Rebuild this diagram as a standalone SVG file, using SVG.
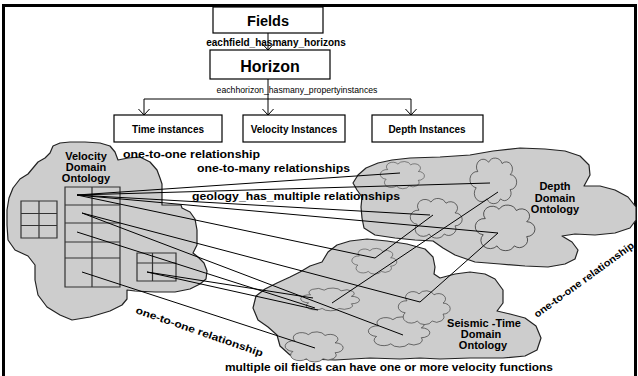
<svg xmlns="http://www.w3.org/2000/svg" xmlns:xlink="http://www.w3.org/1999/xlink" width="638" height="376" viewBox="0 0 638 376">
<style>
.box{fill:#fff;stroke:#000;stroke-width:1.2}
.t{font-family:"Liberation Sans",Arial,sans-serif;fill:#000}
.b{font-weight:bold}
.ln{stroke:#000;stroke-width:1;fill:none}
.cloud{fill:#cdcdcd;stroke:#222;stroke-width:1.2;stroke-linejoin:round}
.sc{fill:#cdcdcd;stroke:#222;stroke-width:1.1;stroke-linejoin:round}
.grid{fill:none;stroke:#333;stroke-width:1.2}
</style>
<defs>
<marker id="v" viewBox="0 0 7 12" refX="6.5" refY="6" markerWidth="7" markerHeight="12" markerUnits="userSpaceOnUse" orient="auto">
<path d="M0,0 L6.5,6 L0,12" fill="none" stroke="#000" stroke-width="1"/>
</marker>
<path id="small" d="M-30,-20 a12 12 0 0 1 20,-15 a14 14 0 0 1 25,2 a10 10 0 0 1 15,18 a12 12 0 0 1 0,24 a12 12 0 0 1 -18,15 a14 14 0 0 1 -25,0 a12 12 0 0 1 -20,-18 a10 10 0 0 1 3,-26 z"/>
</defs>
<rect x="0" y="0" width="638" height="376" fill="#fff"/>
<rect x="3.5" y="5.5" width="632" height="380" fill="none" stroke="#000" stroke-width="3"/>

<g id="fields"><rect class="box" x="213" y="7" width="110" height="26"/><text class="t b" x="268" y="26" font-size="14.5" text-anchor="middle">Fields</text></g>
<g id="horizon"><rect class="box" x="210" y="50" width="120" height="29"/><text class="t b" x="270" y="72" font-size="16" text-anchor="middle">Horizon</text></g>
<g id="time"><rect class="box" x="114" y="115" width="108" height="27"/><text class="t b" x="168" y="133" font-size="10" text-anchor="middle">Time instances</text></g>
<g id="velocity"><rect class="box" x="243" y="115" width="102" height="27"/><text class="t b" x="294" y="133" font-size="10" text-anchor="middle">Velocity Instances</text></g>
<g id="depth"><rect class="box" x="372" y="115" width="111" height="27"/><text class="t b" x="427" y="133" font-size="10" text-anchor="middle">Depth Instances</text></g>

<g id="depth-ontology">
<path class="cloud" d="M353,183 L358,175 L366,168 L378,163 L392,160 L410,158 L440,157 L470,155 L493,151 L520,148 L545,149 L565,151 L580,156 L589,165 L590,175 L584,186 L600,186 L615,190 L628,197 L636,207 L636,220 L630,228 L615,233 L595,235 L575,234 L562,236 L572,242 L578,250 L575,259 L565,264 L548,267 L525,266 L500,264 L475,262 L455,255 L443,248 L433,241 L415,240 L395,238 L375,235 L364,228 L362,218 L361,207 L362,197 L357,190 Z"/>
<use href="#small" class="sc" transform="translate(403,177) scale(0.51,0.37)"/>
<use href="#small" class="sc" transform="translate(494,184) scale(0.54,0.62)"/>
<use href="#small" class="sc" transform="translate(437,221) scale(0.6,0.54)"/>
<use href="#small" class="sc" transform="translate(506,231) scale(0.69,0.62)"/>
<text class="t b" font-size="11" text-anchor="middle"><tspan x="555" y="190">Depth</tspan><tspan x="555" y="202">Domain</tspan><tspan x="555" y="213">Ontology</tspan></text>
</g>

<g id="seismic-ontology">
<path class="cloud" d="M300,272 L310,266 L322,262 L328,252 L337,245 L350,241 L367,239 L387,241 L407,244 L425,249 L433,257 L435,267 L434,274 L440,278 L455,274 L470,272 L485,274 L495,279 L503,290 L503,303 L497,311 L510,314 L525,318 L536,326 L541,338 L537,350 L525,356 L503,358 L470,358 L440,359 L420,358 L400,359 L370,358 L335,360 L305,359 L290,355 L280,346 L277,335 L268,327 L258,320 L253,308 L256,296 L265,289 L277,283 L290,277 Z"/>
<use href="#small" class="sc" transform="translate(375,263) scale(0.52,0.35)"/>
<use href="#small" class="sc" transform="translate(331,301) scale(0.68,0.31)"/>
<use href="#small" class="sc" transform="translate(400,334) scale(0.71,0.41)"/>
<use href="#small" class="sc" transform="translate(315,349) scale(0.67,0.41)"/>
<use href="#small" class="sc" transform="translate(425,310) scale(0.6,0.46)"/>
<text class="t b" font-size="11" text-anchor="middle"><tspan x="484" y="327">Seismic -Time</tspan><tspan x="481" y="338">Domain</tspan><tspan x="483" y="349">Ontology</tspan></text>
</g>

<g id="velocity-ontology">
<path class="cloud" d="M53,146 L60,143 L70,142 L85,142 L100,143 L110,146 L115,152 L118,160 L128,158 L140,157 L150,162 L157,170 L160,178 L162,184 L162,205 L181,205 L182,208 L190,212 L195,219 L197,230 L197,245 L193,253 L198,257 L204,263 L207,271 L206,279 L200,284 L190,289 L175,292 L155,292 L135,291 L127,290 L127,299 L122,305 L110,311 L90,317 L72,320 L60,315 L47,307 L38,295 L35,280 L35,265 L28,256 L15,250 L8,240 L7,225 L7,210 L9,198 L13,188 L20,179 L28,174 L33,168 L38,162 L45,158 L50,153 Z"/>
<path class="grid" d="M21,201 H57 V238 H21 Z M39,201 V238 M21,213.5 H57 M21,225.5 H57"/>
<path class="grid" d="M65,187 H120 V287 H65 Z M92,187 V287 M65,205 H120 M65,223 H120 M65,242 H120 M65,258 H120"/>
<path class="grid" d="M137,253 H176 V281 H137 Z M152.5,253 V281 M137,263 H176"/>
<text class="t b" font-size="11" text-anchor="middle"><tspan x="86" y="160">Velocity</tspan><tspan x="86" y="171">Domain</tspan><tspan x="86" y="182">Ontology</tspan></text>
</g>

<g id="connectors">
<line class="ln" x1="268" y1="33" x2="268" y2="50" marker-end="url(#v)"/>
<line class="ln" x1="268" y1="79" x2="268" y2="99"/>
<line class="ln" x1="144" y1="99" x2="411" y2="99"/>
<line class="ln" x1="144" y1="99" x2="144" y2="115" marker-end="url(#v)"/>
<line class="ln" x1="268" y1="99" x2="268" y2="115" marker-end="url(#v)"/>
<line class="ln" x1="411" y1="99" x2="411" y2="115" marker-end="url(#v)"/>
<path class="ln" d="M77,195 L400,173 M77,195 L490,183 M77,195 L430,215 M77,195 L498,233 M77,195 L375,258"/>
<path class="ln" d="M82,213 L420,302 M82,213 L403,335 M77,232 L315,308 M82,272 L315,348 M147,272 L313,298 M147,272 L318,310"/>
<path class="ln" d="M433,215 L375,258 M498,192 L332,303 M498,233 L420,302"/>
</g>

<g id="labels">
<text class="t b" x="276" y="46" font-size="10" text-anchor="middle">eachfield_hasmany_horizons</text>
<text class="t" x="297" y="93" font-size="8.7" text-anchor="middle">eachhorizon_hasmany_propertyinstances</text>
<text class="t b" x="123" y="158" font-size="10" textLength="137" lengthAdjust="spacingAndGlyphs">one-to-one relationship</text>
<text class="t b" x="197" y="172" font-size="10" textLength="153" lengthAdjust="spacingAndGlyphs">one-to-many relationships</text>
<text class="t b" x="192" y="200" font-size="10" textLength="208" lengthAdjust="spacingAndGlyphs">geology_has_multiple relationships</text>
<text class="t b" x="225" y="371" font-size="10" textLength="328" lengthAdjust="spacingAndGlyphs">multiple oil fields can have one or more velocity functions</text>
<text class="t b" font-size="10" textLength="134" lengthAdjust="spacingAndGlyphs" transform="translate(135,313) rotate(19)">one-to-one relationship</text>
<text class="t b" font-size="10" textLength="121" lengthAdjust="spacingAndGlyphs" transform="translate(537,318) rotate(-36)">one-to-one relationship</text>
</g>
</svg>
